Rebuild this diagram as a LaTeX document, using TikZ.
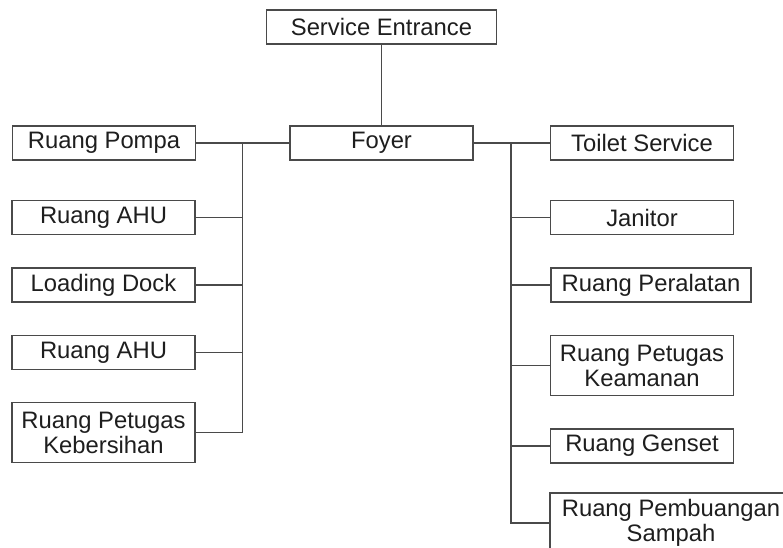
\documentclass[tikz,border=0pt]{standalone}
\usepackage{fontspec}
\setmainfont{Liberation Sans}
\definecolor{linegray}{HTML}{4A4A4A}
\definecolor{textgray}{HTML}{1E1E1E}
\begin{document}
\begin{tikzpicture}[x=1pt, y=-1pt,
    room/.style={draw=linegray, line width=1.2pt, fill=white, text=textgray,
        minimum width=183pt, minimum height=34pt, inner sep=2pt, align=center,
        font=\fontsize{23.8}{25.5}\selectfont},
    link/.style={draw=linegray, line width=1.2pt}]
    \useasboundingbox (0,0) rectangle (783,547);

    \node[room, minimum width=230pt] (entrance) at (381.5, 27) {Service Entrance};
    \node[room] (foyer) at (381.5, 143) {Foyer};

    \node[room] (pompa) at (104, 143) {Ruang Pompa};
    \node[room] (ahuA) at (103.5, 217.5) {Ruang AHU};
    \node[room] (loading) at (103.5, 285) {Loading Dock};
    \node[room] (ahuB) at (103.5, 352.5) {Ruang AHU};
    \node[room, minimum height=60pt] (kebersihan) at (103.5, 432.7) {Ruang Petugas\\Kebersihan};

    \node[room] (toilet) at (642, 143) {Toilet Service};
    \node[room] (janitor) at (642, 217.5) {Janitor};
    \node[room, minimum width=200pt] (peralatan) at (651, 285) {Ruang Peralatan};
    \node[room, minimum height=60pt] (keamanan) at (642, 365.7) {Ruang Petugas\\Keamanan};
    \node[room] (genset) at (642, 446) {Ruang Genset};
    \node[room, minimum width=242pt, minimum height=60pt] (sampah) at (671, 523) {Ruang Pembuangan\\Sampah};

    \coordinate (trunkL) at (242.5, 143);
    \coordinate (trunkR) at (511, 143);

    \draw[link] (entrance) -- (foyer);
    \draw[link] (foyer.west) -- (pompa.east);
    \draw[link] (foyer.east) -- (toilet.west);

    \draw[link] (trunkL) |- (kebersihan.east);
    \draw[link] (ahuA.east) -- (ahuA.east -| trunkL);
    \draw[link] (loading.east) -- (loading.east -| trunkL);
    \draw[link] (ahuB.east) -- (ahuB.east -| trunkL);

    \draw[link] (trunkR) |- (sampah.west);
    \draw[link] (janitor.west) -- (janitor.west -| trunkR);
    \draw[link] (peralatan.west) -- (peralatan.west -| trunkR);
    \draw[link] (keamanan.west) -- (keamanan.west -| trunkR);
    \draw[link] (genset.west) -- (genset.west -| trunkR);
\end{tikzpicture}
\end{document}
